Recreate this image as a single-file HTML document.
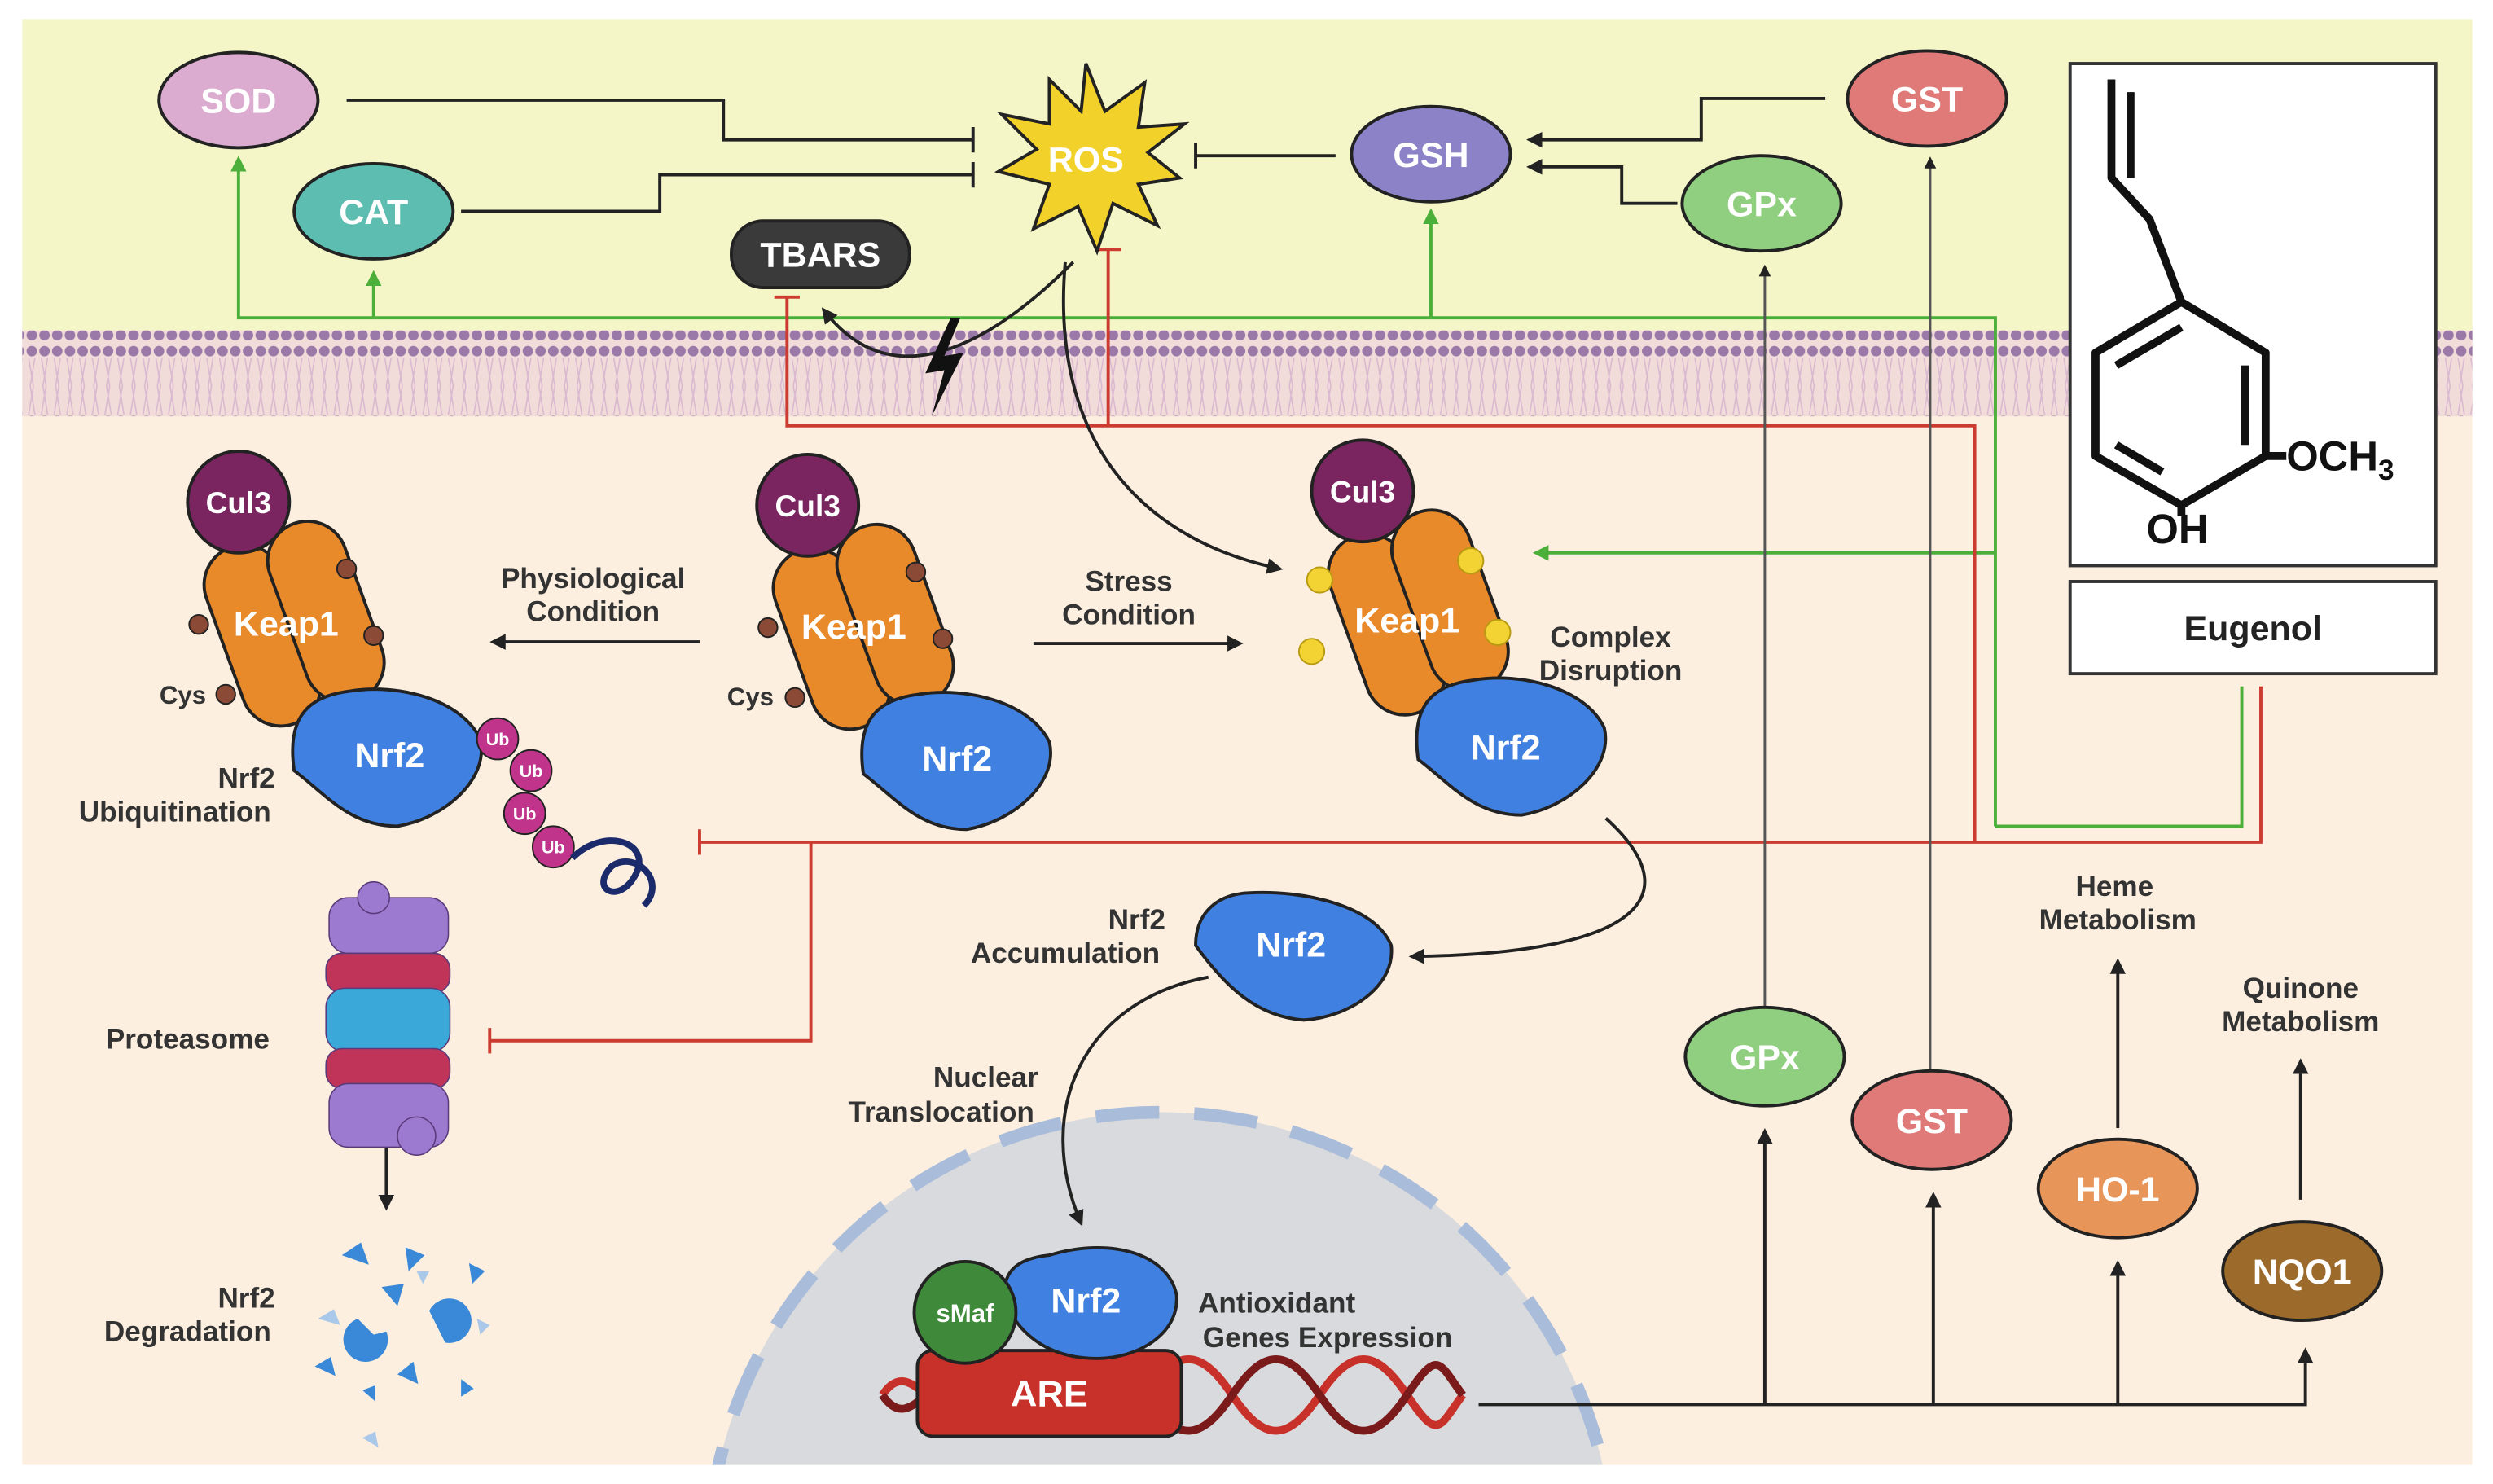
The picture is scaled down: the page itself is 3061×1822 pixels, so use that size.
<!DOCTYPE html>
<html><head><meta charset="utf-8"><style>
html,body{margin:0;padding:0;background:#fff;overflow:hidden;width:3061px;height:1822px}
svg{display:block}
text{font-family:"Liberation Sans",sans-serif;font-weight:bold}
</style></head><body>
<svg width="3061" height="1822" viewBox="0 0 1568 934" preserveAspectRatio="none" xmlns="http://www.w3.org/2000/svg">
<defs>
<marker id="ab" viewBox="0 0 10 10" refX="8" refY="5" markerWidth="5" markerHeight="5" orient="auto"><path d="M0,0L10,5L0,10z" fill="#222"/></marker>
<marker id="ag" viewBox="0 0 10 10" refX="8" refY="5" markerWidth="5" markerHeight="5" orient="auto"><path d="M0,0L10,5L0,10z" fill="#4caf3a"/></marker>
<pattern id="dots" width="8" height="54" patternUnits="userSpaceOnUse"><circle cx="4" cy="5" r="3.3" fill="#9a78a8"/><circle cx="4" cy="49" r="3.3" fill="#9a78a8"/><path d="M2,9L5,27L2,45M6,9L3,27L6,45" stroke="#d9b8d0" stroke-width="0.8" fill="none"/></pattern>
<clipPath id="panel"><rect x="14" y="12" width="1541" height="910"/></clipPath>
<g id="cx" stroke="#222" stroke-width="2">
<rect x="-10" y="-47" width="50" height="118" rx="25" fill="#e8892a" transform="rotate(-20 15 12)"/>
<rect x="30" y="-62" width="50" height="118" rx="25" fill="#e8892a" transform="rotate(-20 55 -3)"/>
<circle cx="0" cy="-72" r="32" fill="#7b2560"/>
<path d="M30,45C60,40 100,50 112,75C118,100 90,125 60,130C30,130 15,110 -5,95C-10,60 5,48 30,45Z" fill="#3f80e0" transform="translate(40,2)"/>
</g>
</defs>
<rect x="14" y="12" width="1541" height="910" fill="#fcefdf"/>
<rect x="14" y="12" width="1541" height="196" fill="#f4f6c8"/>
<rect x="14" y="208" width="1541" height="54" fill="#f1dcd9"/>
<rect x="14" y="208" width="1541" height="54" fill="url(#dots)"/>
<g clip-path="url(#panel)">
<circle cx="730" cy="985" r="285" fill="#d9dadd"/>
<circle cx="730" cy="985" r="285" fill="none" stroke="#a9bddb" stroke-width="8" stroke-dasharray="40 22"/>
</g>
<g fill="none" stroke="#222" stroke-width="2">
<path d="M218,63H455V88H612M612,80V96"/>
<path d="M290,133H415V110H612M612,102V118"/>
<path d="M840,98H752M752,90V106"/>
<path d="M1148,62H1070V88H962" marker-end="url(#ab)"/>
<path d="M1055,128H1020V105H962" marker-end="url(#ab)"/>
</g>
<g fill="none" stroke="#4caf3a" stroke-width="2">
<path d="M1255,520V200H150V100" marker-end="url(#ag)"/>
<path d="M235,200V172" marker-end="url(#ag)"/>
<path d="M900,200V133" marker-end="url(#ag)"/>
<path d="M1255,348H966" marker-end="url(#ag)"/>
<path d="M1255,520H1410V432"/>
</g>
<g fill="none" stroke="#cc3b30" stroke-width="2">
<path d="M1422,432V530H440M440,522V538"/>
<path d="M1242,530V268H495V187M487,187H503"/>
<path d="M697,268V157M689,157H705"/>
<path d="M510,530V655H308M308,647V663"/>
</g>
<g fill="none" stroke="#555" stroke-width="1.5">
<path d="M1110,640V168" marker-end="url(#ab)"/>
<path d="M1214,690V100" marker-end="url(#ab)"/>
</g>
<g fill="none" stroke="#222" stroke-width="2">
<path d="M930,884H1450V850" marker-end="url(#ab)"/>
<path d="M1110,884V712" marker-end="url(#ab)"/>
<path d="M1216,884V752" marker-end="url(#ab)"/>
<path d="M1332,884V795" marker-end="url(#ab)"/>
<path d="M1332,710V605" marker-end="url(#ab)"/>
<path d="M1447,755V668" marker-end="url(#ab)"/>
<path d="M440,404H310" marker-end="url(#ab)"/>
<path d="M650,405H780" marker-end="url(#ab)"/>
<path d="M243,700V760" marker-end="url(#ab)"/>
<path d="M675,165C620,220 560,250 518,195" marker-end="url(#ab)"/>
<path d="M670,165C660,280 720,340 805,358" marker-end="url(#ab)"/>
<path d="M1010,515C1060,560 1040,600 888,602" marker-end="url(#ab)"/>
<path d="M760,615C680,630 650,700 680,770" marker-end="url(#ab)"/>
</g>
<path d="M598,200L582,235L594,233L586,262L606,222L594,224L604,200Z" fill="#111"/>
<g stroke="#222" stroke-width="2">
<ellipse cx="150" cy="63" rx="50" ry="30" fill="#dcabd0"/>
<ellipse cx="235" cy="133" rx="50" ry="30" fill="#5dbdb0"/>
<rect x="460" y="139" width="112" height="42" rx="20" fill="#3a3a3a"/>
<ellipse cx="900" cy="97" rx="50" ry="30" fill="#8b82c7"/>
<ellipse cx="1212" cy="62" rx="50" ry="30" fill="#e07a78"/>
<ellipse cx="1108" cy="128" rx="50" ry="30" fill="#8fcf7f"/>
<polygon fill="#f2d22a" points="683,40 695,70 720,52 716,80 745,78 722,96 742,112 716,116 728,142 700,128 690,158 678,130 650,144 660,116 628,108 652,94 630,72 660,78 660,50 680,70"/>
<ellipse cx="1110" cy="665" rx="50" ry="31" fill="#8fcf7f"/>
<ellipse cx="1215" cy="705" rx="50" ry="31" fill="#e07a78"/>
<ellipse cx="1332" cy="748" rx="50" ry="31" fill="#e8955a"/>
<ellipse cx="1448" cy="800" rx="50" ry="31" fill="#9c6a2a"/>
</g>
<g fill="#fff" font-size="22" text-anchor="middle">
<text x="150" y="71">SOD</text><text x="235" y="141">CAT</text>
<text x="516" y="168">TBARS</text><text x="683" y="108">ROS</text>
<text x="900" y="105">GSH</text><text x="1212" y="70">GST</text><text x="1108" y="136">GPx</text>
<text x="1110" y="673">GPx</text><text x="1215" y="713">GST</text><text x="1332" y="756">HO-1</text><text x="1448" y="808">NQO1</text>
</g>
<rect x="1302" y="40" width="230" height="316" fill="#fff" stroke="#333" stroke-width="2"/>
<rect x="1302" y="366" width="230" height="58" fill="#fff" stroke="#333" stroke-width="2"/>
<text x="1417" y="403" font-size="22" text-anchor="middle" fill="#222">Eugenol</text>
<g fill="none" stroke="#111" stroke-width="5" stroke-linejoin="round">
<path d="M1372,190L1425,222L1425,287L1372,318L1318,287L1318,222Z"/>
<path d="M1331,230L1372,206M1412,230L1412,280M1331,280L1360,297"/>
<path d="M1372,190L1352,138L1328,112V50M1340,112V58"/>
<path d="M1372,318V325M1425,287L1438,287"/>
</g>
<text x="1438" y="296" font-size="26" fill="#111" font-weight="normal">OCH<tspan font-size="18" dy="6">3</tspan></text>
<text x="1350" y="342" font-size="26" fill="#111" font-weight="normal">OH</text>
<use href="#cx" x="150" y="388"/>
<use href="#cx" x="508" y="390"/>
<use href="#cx" x="857" y="381"/>
<g fill="#8b4a35" stroke="#222"><circle cx="218" cy="358" r="6"/><circle cx="125" cy="393" r="6"/><circle cx="235" cy="400" r="6"/><circle cx="142" cy="437" r="6"/>
<circle cx="576" cy="360" r="6"/><circle cx="483" cy="395" r="6"/><circle cx="593" cy="402" r="6"/><circle cx="500" cy="439" r="6"/></g>
<g fill="#f3d334" stroke="#b89a10" stroke-width="1"><circle cx="830" cy="365" r="8"/><circle cx="925" cy="353" r="8"/><circle cx="825" cy="410" r="8"/><circle cx="942" cy="398" r="8"/></g>
<g fill="#fff" font-size="19" text-anchor="middle">
<text x="150" y="323">Cul3</text><text x="508" y="325">Cul3</text><text x="857" y="316">Cul3</text>
<text x="180" y="400" font-size="22">Keap1</text><text x="537" y="402" font-size="22">Keap1</text><text x="885" y="398" font-size="22">Keap1</text>
<text x="245" y="483" font-size="22">Nrf2</text><text x="602" y="485" font-size="22">Nrf2</text><text x="947" y="478" font-size="22">Nrf2</text>
</g>
<g stroke="#222" fill="#c0348c"><circle cx="313" cy="465" r="13"/><circle cx="334" cy="485" r="13"/><circle cx="330" cy="512" r="13"/><circle cx="348" cy="533" r="13"/></g>
<g fill="#fff" font-size="11" text-anchor="middle"><text x="313" y="469">Ub</text><text x="334" y="489">Ub</text><text x="330" y="516">Ub</text><text x="348" y="537">Ub</text></g>
<path d="M360,540C380,520 410,530 400,550C390,570 370,560 385,545C400,535 420,555 405,570" fill="none" stroke="#1a2a6a" stroke-width="4"/>
<path d="M785,562C820,560 865,570 875,595C878,620 850,640 820,642C790,640 770,620 752,595C752,575 765,563 785,562Z" fill="#3f80e0" stroke="#222" stroke-width="2"/>
<text x="812" y="602" fill="#fff" font-size="22" text-anchor="middle">Nrf2</text>
<g stroke="#5a3a7a" stroke-width="0.8">
<rect x="207" y="565" width="75" height="35" rx="12" fill="#9c7ad0"/>
<rect x="205" y="600" width="78" height="25" rx="10" fill="#c0345a"/>
<rect x="205" y="622" width="78" height="40" rx="12" fill="#3aa8d8"/>
<rect x="205" y="660" width="78" height="25" rx="10" fill="#c0345a"/>
<rect x="207" y="682" width="75" height="40" rx="12" fill="#9c7ad0"/>
<circle cx="235" cy="565" r="10" fill="#9c7ad0"/><circle cx="262" cy="715" r="12" fill="#9c7ad0"/>
</g>
<g fill="#3a88d8"><path d="M215,790l12,-8l5,14z"/><path d="M240,810l14,-2l-4,14z"/><path d="M255,785l12,5l-10,10z"/><path d="M295,795l10,5l-8,8z"/><path d="M225,830a14,14 0 1,0 18,8l-8,2z"/><path d="M270,825a14,14 0 1,1 10,20l-4,-8z"/><path d="M198,860l10,-6l3,12z"/><path d="M250,865l10,-8l3,14z"/><path d="M228,875l8,-3l0,10z"/><path d="M290,868l8,6l-8,5z"/></g>
<g fill="#a9c8ea"><path d="M200,830l10,-6l4,10z"/><path d="M300,830l8,4l-6,6z"/><path d="M228,905l8,-4l2,10z"/><path d="M262,800l8,0l-4,8z"/></g>
<g fill="none" stroke-width="5">
<path d="M555,878C575,848 590,908 610,878S645,848 665,878S700,908 720,878S755,848 775,878S810,908 830,878S865,848 885,878S905,898 920,878" stroke="#c8302a"/>
<path d="M555,878C575,908 590,848 610,878S645,908 665,878S700,848 720,878S755,908 775,878S810,848 830,878S865,908 885,878S905,858 920,878" stroke="#7a1a1a"/>
</g>
<rect x="577" y="850" width="166" height="54" rx="10" fill="#c8302a" stroke="#222" stroke-width="2"/>
<text x="660" y="885" fill="#fff" font-size="23" text-anchor="middle">ARE</text>
<path d="M660,790C700,778 735,790 740,815C742,840 715,855 690,855C660,855 640,840 632,818C630,800 640,792 660,790Z" fill="#3f80e0" stroke="#222" stroke-width="2"/>
<circle cx="607" cy="826" r="32" fill="#3f8a3a" stroke="#222" stroke-width="2"/>
<text x="607" y="832" fill="#fff" font-size="16" text-anchor="middle">sMaf</text>
<text x="683" y="826" fill="#fff" font-size="22" text-anchor="middle">Nrf2</text>
<g fill="#333" font-size="18" font-weight="bold" text-anchor="middle">
<text x="373" y="370">Physiological</text><text x="373" y="391">Condition</text>
<text x="710" y="372">Stress</text><text x="710" y="393">Condition</text>
<text x="1013" y="407">Complex</text><text x="1013" y="428">Disruption</text>
<text x="155" y="496">Nrf2</text><text x="110" y="517">Ubiquitination</text>
<text x="118" y="660">Proteasome</text>
<text x="155" y="823">Nrf2</text><text x="118" y="844">Degradation</text>
<text x="715" y="585">Nrf2</text><text x="670" y="606">Accumulation</text>
<text x="620" y="684">Nuclear</text><text x="592" y="706">Translocation</text>
<text x="803" y="826">Antioxidant</text><text x="835" y="848">Genes Expression</text>
<text x="1330" y="564">Heme</text><text x="1332" y="585">Metabolism</text>
<text x="1447" y="628">Quinone</text><text x="1447" y="649">Metabolism</text>
<text x="115" y="443" font-size="16">Cys</text><text x="472" y="444" font-size="16">Cys</text>
</g>
</svg>
</body></html>
